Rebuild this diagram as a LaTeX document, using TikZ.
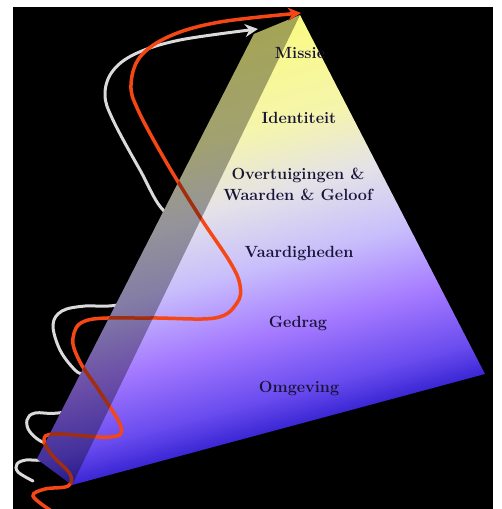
\documentclass[tikz,border=0pt]{standalone}
\usetikzlibrary{arrows.meta}
\definecolor{achter}{RGB}{0,0,0}
\definecolor{tekst}{RGB}{25,20,55}
\definecolor{oranje}{RGB}{245,70,22}
\definecolor{grijs}{RGB}{218,218,218}
\definecolor{pyrtop}{RGB}{250,250,130}
\definecolor{pyrcream}{RGB}{245,245,172}
\definecolor{pyrwhite}{RGB}{228,226,232}
\definecolor{pyrlilac}{RGB}{200,190,252}
\definecolor{pyrpurple}{RGB}{165,122,255}
\definecolor{pyrviolet}{RGB}{105,75,238}
\definecolor{pyrblue}{RGB}{58,38,212}
\pgfdeclareverticalshading{pyramide}{100bp}{color(0bp)=(pyrblue); color(26.8bp)=(pyrblue);
  color(30.7bp)=(pyrviolet); color(38.4bp)=(pyrpurple); color(46.6bp)=(pyrlilac);
  color(54.8bp)=(pyrwhite); color(63bp)=(pyrcream); color(75bp)=(pyrtop); color(100bp)=(pyrtop)}

\begin{document}
\begin{tikzpicture}[x=1pt,y=-1pt,
  laag/.style={font=\fontsize{16.2}{21}\selectfont\bfseries,text=tekst,align=center},
  lijn/.style={line width=3.5pt,line cap=round,-{Stealth[length=13pt,width=13pt]}}]
  \fill[white] (0,0) rectangle (501,509);
  \fill[achter] (13,7) rectangle (493,509);
  \useasboundingbox (0,0) rectangle (501,509);
  % hoekpunten van de piramide
  \coordinate (A) at (300,15);
  \coordinate (T) at (254,34);
  \coordinate (S) at (37,459);
  \coordinate (L) at (72,485);
  \coordinate (R) at (485,374);
  \coordinate (wit) at (258,29);
  \coordinate (rood) at (301,13);
  % witte lijn, loopt achter de piramide langs
  \draw[lijn,grijs,line width=3pt] plot[smooth,tension=0.6] coordinates {(33,481) (18,472) (17,464) (26,460)
    (42,460) (75,455) (70,445) (45,443) (30,432) (27,420) (35,413) (58,413) (100,405) (110,385)
    (85,375) (75,370) (60,350) (53,325) (62,311) (85,306) (118,305) (200,290) (230,255) (200,225)
    (165,212) (140,170) (113,120) (105,95) (112,72) (135,54) (180,40) (wit)};
  % vlakken
  \begin{scope}
    \clip (A) -- (T) -- (S) -- (L) -- (R) -- cycle;
    \begin{scope}[transform canvas={rotate around={15.04:(L)}}]
      \shade[shading=pyramide] (L) ++(-60,15) rectangle ++(520,-410);
    \end{scope}
  \end{scope}
  % niveaus
  \node[laag] (missie) at (300,53) {Missie};
  \node[laag] (identiteit) at (299,118) {Identiteit};
  \node[laag] (overtuigingen) at (298,184) {Overtuigingen \&\\Waarden \& Geloof};
  \node[laag] (vaardigheden) at (299,254) {Vaardigheden};
  \node[laag] (gedrag) at (298,323) {Gedrag};
  \node[laag] (omgeving) at (299,388) {Omgeving};
  % rode lijn, over de piramide heen
  \draw[lijn,oranje] plot[smooth,tension=0.6] coordinates {(50,510) (33,496) (45,489) (68,486)
    (70,474) (52,455) (44,440) (55,434) (110,437) (121,427) (100,392) (80,362) (73,338) (88,320)
    (150,318) (215,318) (237,303) (240,285) (230,262) (200,217) (165,160) (138,110) (131,85)
    (140,57) (170,36) (220,22) (rood)};
  % schaduwzijde
  \fill[black,opacity=0.34] (A) -- (T) -- (S) -- (L) -- cycle;
\end{tikzpicture}
\end{document}
